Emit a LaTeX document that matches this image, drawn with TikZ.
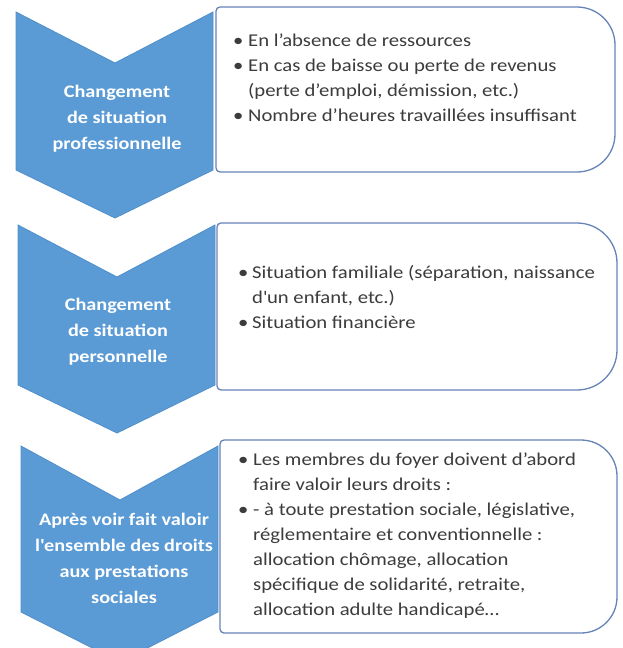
\documentclass[tikz,border=0pt]{standalone}
\usepackage{fontspec}
\setmainfont{Carlito}[FakeStretch=1.15]
\definecolor{chev}{HTML}{5B9BD5}
\definecolor{chevline}{HTML}{4F8FCB}
\definecolor{boxline}{HTML}{6784B8}
\definecolor{txt}{HTML}{3C3C3C}
\newcommand\listshape[5]{%
  \draw[listbox] (#1+4,#2) -- (#3-#5,#2)
    .. controls (#3-0.448*#5,#2) and (#3,#2+0.448*#5) .. (#3,#2+#5)
    -- (#3,#4-#5)
    .. controls (#3,#4-0.448*#5) and (#3-0.448*#5,#4) .. (#3-#5,#4)
    -- (#1+4,#4)
    .. controls (#1+1.8,#4) and (#1,#4-1.8) .. (#1,#4-4)
    -- (#1,#2+4)
    .. controls (#1,#2+1.8) and (#1+1.8,#2) .. (#1+4,#2) -- cycle;}
\begin{document}
\begin{tikzpicture}[x=1pt,y=-1pt,
  chevron/.style={fill=chev,draw=chevline,line width=0.8pt,line join=miter},
  listbox/.style={fill=white,draw=boxline,line width=1.3pt},
  chevtext/.style={text=white,font=\fontsize{17.6}{26}\selectfont\bfseries,align=center,anchor=base,inner sep=0pt},
  boxtext/.style={text=txt,font=\fontsize{18}{25}\selectfont,align=left,anchor=base west,inner sep=0pt}]
\clip (0,0) rectangle (623,648);
\fill[white] (0,0) rectangle (623,648);
% row 1
\draw[chevron] (16,12) -- (115,63) -- (213,12) -- (213,170) -- (115,218) -- (16,170) -- cycle;
\listshape{216}{7}{615}{172}{38}
\node[chevtext] (c1) at (117,149) {Changement\\de situation\\professionnelle};
\node[boxtext] (t1) at (233,121) {\makebox[15pt][l]{•}En l’absence de ressources\\
\makebox[15pt][l]{•}En cas de baisse ou perte de revenus\\
\hspace*{15pt}(perte d’emploi, démission, etc.)\\
\makebox[15pt][l]{•}Nombre d’heures travaillées insuffisant};
% row 2
\draw[chevron] (18,225) -- (117,277) -- (215,225) -- (215,385) -- (117,433) -- (18,385) -- cycle;
\listshape{217}{223}{617}{390}{40}
\node[chevtext] (c2) at (118,362) {Changement\\de situation\\personnelle};
\node[boxtext] (t2) at (238,328) {\makebox[14pt][l]{•}Situation familiale (séparation, naissance\\
\hspace*{14pt}d\textquotesingle un enfant, etc.)\\
\makebox[14pt][l]{•}Situation financière};
% row 3
\draw[chevron] (21,446) -- (120,500) -- (218,446) -- (218,612) -- (120,662) -- (21,612) -- cycle;
\listshape{220}{440}{617}{633}{36}
\node[chevtext] (c3) at (124,603) {Après voir fait valoir\\l\textquotesingle ensemble des droits\\aux prestations\\sociales};
\node[boxtext] (t3) at (238,615) {\makebox[15pt][l]{•}Les membres du foyer doivent d’abord\\
\hspace*{15pt}faire valoir leurs droits :\\
\makebox[15pt][l]{•}- à toute prestation sociale, législative,\\
\hspace*{15pt}réglementaire et conventionnelle :\\
\hspace*{15pt}allocation chômage, allocation\\
\hspace*{15pt}spécifique de solidarité, retraite,\\
\hspace*{15pt}allocation adulte handicapé…};
\end{tikzpicture}
\end{document}
